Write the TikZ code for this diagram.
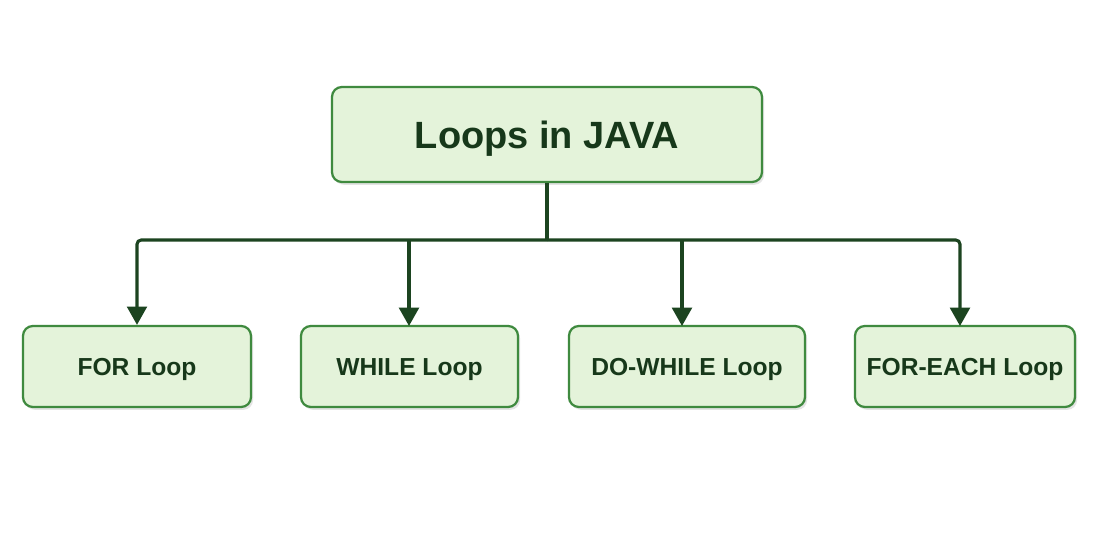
\documentclass[tikz,border=0pt]{standalone}
\usepackage{fontspec}
\setmainfont{Liberation Sans}
\usetikzlibrary{arrows.meta,shadows}
\definecolor{boxfill}{HTML}{E4F3DA}
\definecolor{boxline}{HTML}{3F8A3F}
\definecolor{txt}{HTML}{17381A}
\definecolor{wire}{HTML}{1C4420}
\tikzset{
  px/.style={x=0.025cm,y=-0.025cm},
  loopbox/.style={draw=boxline, line width=1.6pt, fill=boxfill, rounded corners=7pt,
    text=txt, font=\bfseries\fontsize{17.5}{20}\selectfont, align=center,
    text height=12.5pt, text depth=0pt, inner sep=0pt,
    drop shadow={shadow xshift=1.5pt, shadow yshift=-2pt, fill=black!30, opacity=0.35}},
  topbox/.style={loopbox, font=\bfseries\fontsize{27}{30}\selectfont, text height=19.3pt},
  wireline/.style={draw=wire, line width=2.2pt, rounded corners=3pt},
  arr/.style={wireline, -{Triangle[length=13pt,width=14pt]}},
}
\begin{document}
\begin{tikzpicture}[px]
\useasboundingbox[fill=white] (0,0) rectangle (1100,550);
\node[topbox, minimum width=430*0.025cm, minimum height=95*0.025cm] (top) at (547,134.5) {Loops in JAVA};
\node[loopbox, minimum width=228*0.025cm, minimum height=81*0.025cm] (b1) at (137,366.5) {FOR Loop};
\node[loopbox, minimum width=217*0.025cm, minimum height=81*0.025cm] (b2) at (409.5,366.5) {WHILE Loop};
\node[loopbox, minimum width=236*0.025cm, minimum height=81*0.025cm] (b3) at (687,366.5) {DO-WHILE Loop};
\node[loopbox, minimum width=220*0.025cm, minimum height=81*0.025cm] (b4) at (965,366.5) {FOR-EACH Loop};
\coordinate (bus) at (547,240);
\coordinate (t2) at (409,326);
\coordinate (t3) at (682,326);
\coordinate (t4) at (960,326);
\draw[wireline] (top.south) -- (bus);
\draw[arr] (bus) -| (b1.north);
\draw[arr] (bus) -| (t4);
\draw[arr, rounded corners=0pt] (t2 |- bus) -- (t2);
\draw[arr, rounded corners=0pt] (t3 |- bus) -- (t3);
\end{tikzpicture}
\end{document}
